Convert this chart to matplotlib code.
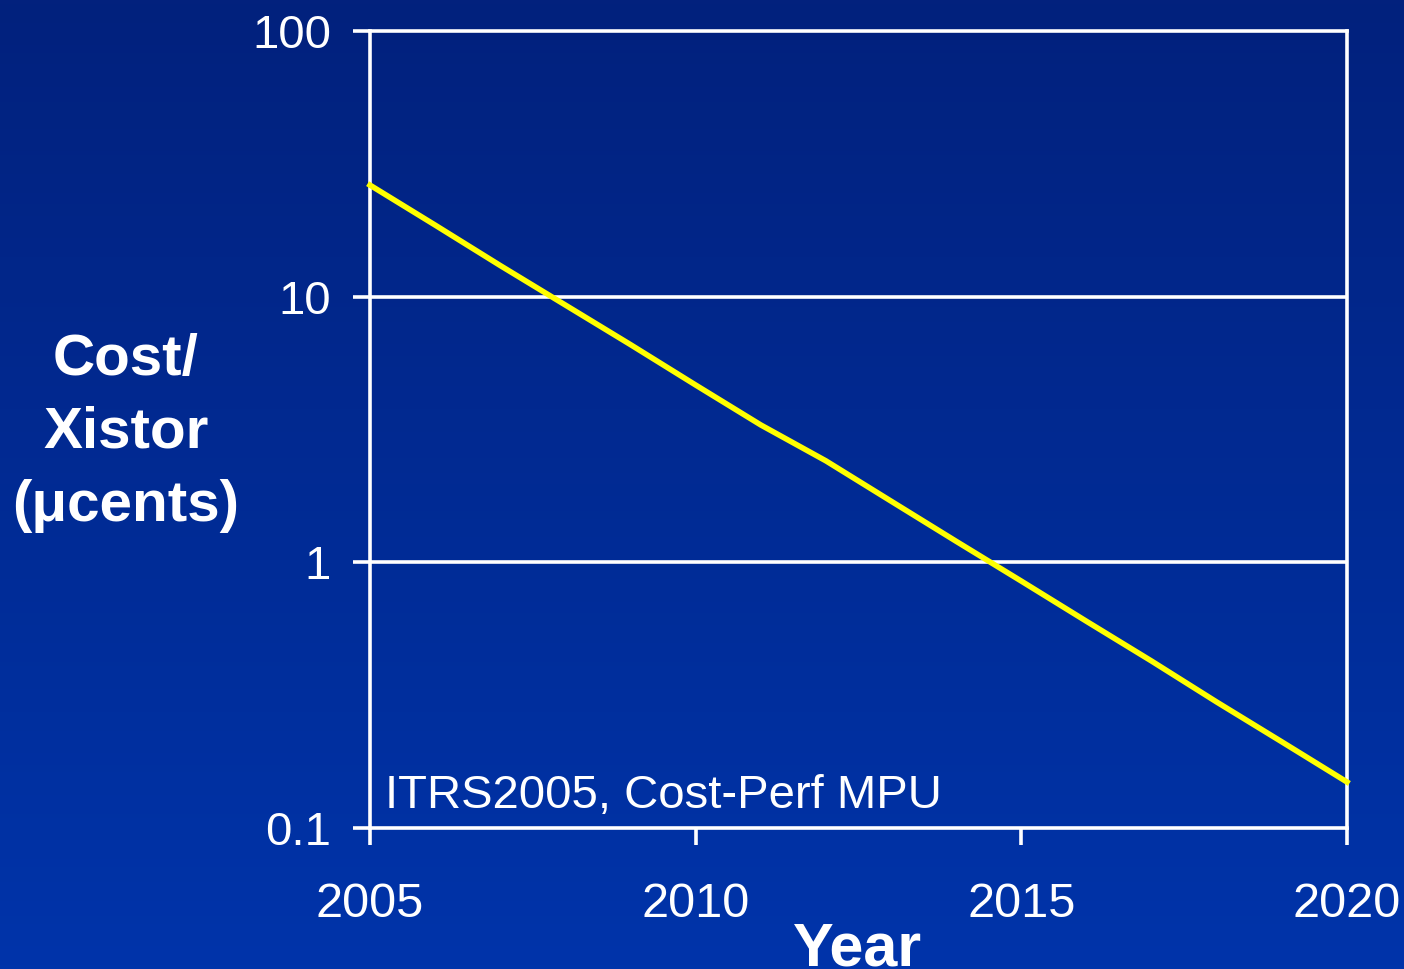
import numpy as np
import matplotlib.pyplot as plt
from matplotlib.ticker import FixedLocator, NullLocator

plt.rcParams['font.family'] = ['Liberation Sans', 'DejaVu Sans']

years = [2005, 2006, 2007, 2008, 2009, 2010, 2011, 2012,
         2013, 2014, 2015, 2016, 2017, 2018, 2019, 2020]
cost = [26.3, 18.6, 13.1, 9.3, 6.6, 4.65, 3.29, 2.41,
        1.70, 1.20, 0.85, 0.60, 0.425, 0.298, 0.211, 0.149]
y_ticks = [0.1, 1, 10, 100]
y_labels = ['0.1', '1', '10', '100']
x_ticks = [2005, 2010, 2015, 2020]

fig = plt.figure(figsize=(14.04, 9.69), dpi=100)

# gradient background
bg = fig.add_axes([0, 0, 1, 1], zorder=-1)
top = np.array([2, 33, 125]) / 255.0
bot = np.array([0, 52, 170]) / 255.0
t = np.linspace(0, 1, 256)[:, None]
grad = top[None, :] * (1 - t) + bot[None, :] * t
bg.imshow(grad[:, None, :], aspect='auto', extent=[0, 1, 0, 1])
bg.axis('off')

ax = fig.add_axes([0.2635, 0.1455, 0.6959, 0.8225])
ax.patch.set_alpha(0)
ax.set_yscale('log')
ax.set_xlim(2005, 2020)
ax.set_ylim(0.1, 100)

ax.plot(years, cost, color='#ffff00', linewidth=4, zorder=3, clip_on=False)

for v in [1, 10]:
    ax.axhline(v, color='white', linewidth=2.6, zorder=2)

for s in ax.spines.values():
    s.set_color('white')
    s.set_linewidth(2.6)

ax.yaxis.set_major_locator(FixedLocator(y_ticks))
ax.yaxis.set_minor_locator(NullLocator())
ax.set_yticklabels(y_labels)
ax.set_xticks(x_ticks)
ax.set_xticklabels([str(x) for x in x_ticks])
ax.tick_params(axis='both', colors='white', direction='out', length=12, width=2.6)
ax.tick_params(axis='y', labelsize=34, pad=16)
ax.tick_params(axis='x', labelsize=35, pad=27)

ax.text(0.0154, 0.025, 'ITRS2005, Cost-Perf MPU', transform=ax.transAxes,
        color='white', fontsize=34, va='baseline', ha='left')

fig.text(126 / 1404, 1 - 433 / 969, 'Cost/\nXistor\n(\u03bccents)', color='white',
         fontsize=42, fontweight='bold', ha='center', va='center', linespacing=1.45)
fig.text(858 / 1404, 3 / 969, 'Year', color='white', fontsize=44,
         fontweight='bold', ha='center', va='baseline')

fig.savefig('out.png', dpi=100)
